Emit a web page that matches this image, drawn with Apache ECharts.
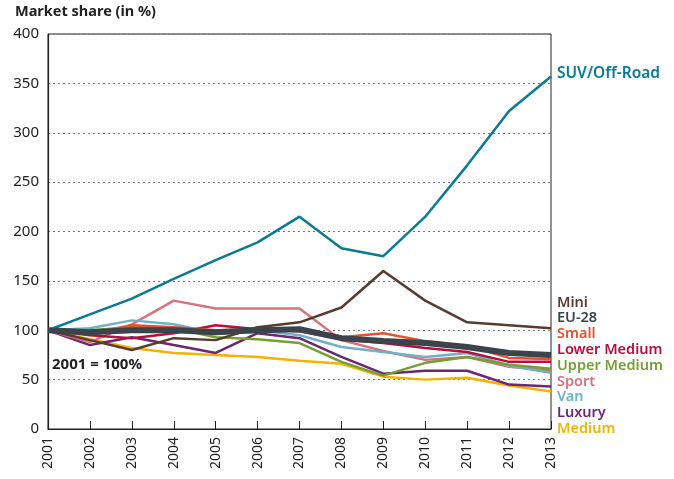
<!DOCTYPE html>
<html>
<head>
<meta charset="utf-8">
<script src="https://cdn.jsdelivr.net/npm/echarts@6/dist/echarts.min.js"></script>
<style>
  html, body { margin: 0; padding: 0; background: #fff; }
  #chart { width: 674px; height: 479px; }
</style>
</head>
<body>
<div id="chart"></div>
<script>
// index values, 2001 = 100
const years = ["2001", "2002", "2003", "2004", "2005", "2006", "2007", "2008", "2009", "2010", "2011", "2012", "2013"];
const yTicks = [0, 50, 100, 150, 200, 250, 300, 350, 400];

const suv = [100, 116, 132, 152, 171, 189, 215, 183, 175, 215, 267, 322, 357];
const mini = [100, 90, 80, 92, 90, 103, 108, 123, 160, 130, 108, 105, 102];
const eu28 = [100, 98, 100, 100, 98, 100, 101, 92, 89, 87, 83, 77, 75];
const small = [100, 97, 105, 103, 100, 101, 101, 93, 97, 89, 84, 72, 71];
const lowerMedium = [100, 95, 92, 97, 105, 101, 99, 91, 87, 82, 78, 68, 68];
const upperMedium = [100, 100, 103, 102, 93, 91, 87, 68, 54, 67, 73, 65, 61];
const sport = [100, 88, 106, 130, 122, 122, 122, 90, 79, 70, 73, 63, 59];
const van = [100, 102, 110, 106, 97, 100, 95, 83, 78, 73, 77, 64, 57];
const luxury = [100, 85, 93, 85, 77, 97, 92, 73, 56, 59, 59, 45, 43];
const medium = [100, 91, 82, 77, 75, 73, 69, 66, 53, 50, 52, 44, 38];

const labelNames = ["Mini", "EU-28", "Small", "Lower Medium", "Upper Medium", "Sport", "Van", "Luxury", "Medium"];
const colors = {
  "SUV/Off-Road": "#0a7b92",
  "Mini": "#5b3b2e",
  "EU-28": "#3b434c",
  "Small": "#e2532b",
  "Lower Medium": "#b2103e",
  "Upper Medium": "#73a030",
  "Sport": "#d6747e",
  "Van": "#70b1c9",
  "Luxury": "#6b2770",
  "Medium": "#f4b300"
};

const font = "'Noto Sans', sans-serif";

const mk = (name, data, width) => ({
  name: name,
  type: "line",
  data: data,
  symbol: "none",
  lineStyle: { color: colors[name], width: width || 2.5 },
  itemStyle: { color: colors[name] }
});

const series = [
  mk("SUV/Off-Road", suv),
  mk("Medium", medium),
  mk("Luxury", luxury),
  mk("Sport", sport),
  mk("Van", van),
  mk("Upper Medium", upperMedium),
  mk("Lower Medium", lowerMedium),
  mk("Small", small),
  mk("Mini", mini),
  mk("EU-28", eu28, 6)
];

const graphics = [
  { type: "text", left: 15, top: 4, style: { text: "Market share (in %)", font: "bold 14.5px " + font, fill: "#222" } },
  { type: "text", left: 52, top: 357, style: { text: "2001 = 100%", font: "bold 15px " + font, fill: "#222" } },
  { type: "text", left: 557, top: 66, style: { text: "SUV/Off-Road", font: "600 15.5px " + font, fill: colors["SUV/Off-Road"] } }
];
labelNames.forEach((n, i) => {
  graphics.push({
    type: "text", left: 557, top: 295 + i * 15.8,
    style: { text: n, font: "600 14.5px " + font, fill: colors[n] }
  });
});

const chart = echarts.init(document.getElementById("chart"));
chart.setOption({
  animation: false,
  grid: { left: 48, right: 123, top: 34, bottom: 50, show: true, borderColor: "#222", borderWidth: 1 },
  xAxis: {
    type: "category",
    data: years,
    boundaryGap: false,
    axisLine: { lineStyle: { color: "#222", width: 1.2 } },
    axisTick: { inside: true, length: 8, lineStyle: { color: "#222" }, alignWithLabel: true },
    axisLabel: { rotate: 90, color: "#222", fontFamily: font, fontSize: 14, margin: 8 },
    splitLine: { show: false }
  },
  yAxis: {
    type: "value",
    min: yTicks[0],
    max: yTicks[yTicks.length - 1],
    interval: 50,
    axisLine: { show: true, lineStyle: { color: "#222", width: 1.2 } },
    axisTick: { show: false },
    axisLabel: { color: "#222", fontFamily: font, fontSize: 15, margin: 9 },
    splitLine: { lineStyle: { color: "#777", type: [2, 3], width: 1.2 } }
  },
  series: series,
  graphic: graphics
});
</script>
</body>
</html>
